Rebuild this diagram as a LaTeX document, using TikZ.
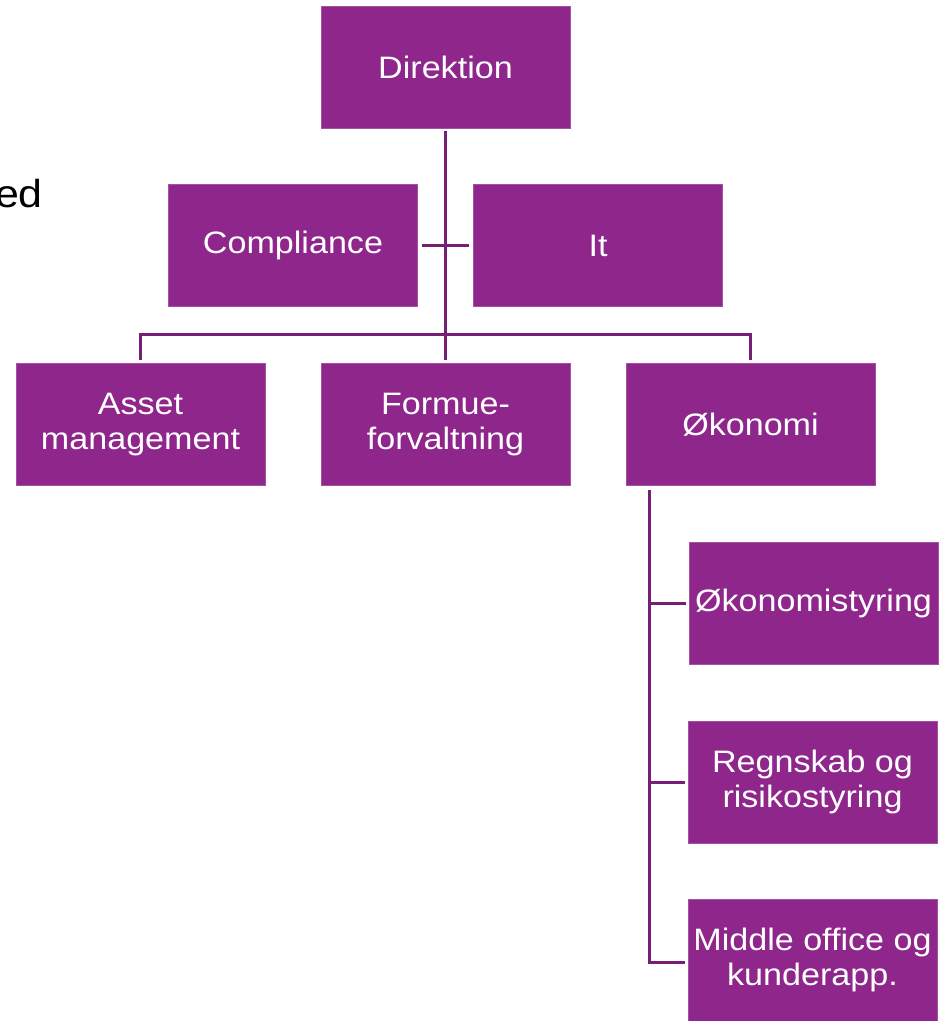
\documentclass[tikz,border=0pt]{standalone}
\usepackage{fontspec}
\setmainfont{Liberation Sans}
\newfontfamily\boxfont[FakeStretch=1.1]{Liberation Sans}
\definecolor{boxpurple}{RGB}{142,38,140}
\definecolor{linepurple}{RGB}{116,30,116}
\begin{document}
\begin{tikzpicture}[x=1pt,y=-1pt,
  box/.style={fill=boxpurple, draw=boxpurple!80!white, line width=0.6pt, text=white,
    minimum width=249pt, minimum height=122pt, inner sep=0pt, align=center,
    font=\boxfont\fontsize{31}{35}\selectfont},
  conn/.style={draw=linepurple, line width=3pt, shorten <=3pt, shorten >=3pt}]
\useasboundingbox (0,0) rectangle (947,1021);
\node[box] (dir)   at (445.5,67)   {Direktion};
\node[box] (comp)  at (293,245.5)  {Compliance};
\node[box] (it)    at (598,245.5)  {It};
\node[box] (asset) at (140.5,424.5) {Asset\\management};
\node[box] (form)  at (445.5,424.5) {Formue-\\forvaltning};
\node[box] (oko)   at (750.5,424.5) {Økonomi};
\node[box] (okst)  at (813.5,603)  {Økonomistyring};
\node[box] (regn)  at (812.5,782)  {Regnskab og\\risikostyring};
\node[box] (mid)   at (812.5,960)  {Middle office og\\kunderapp.};
\node[anchor=base east, inner sep=0pt, font=\boxfont\fontsize{39}{42}\selectfont] (ed) at (43,207) {ed};
\coordinate (bus) at (445.5,334);
\coordinate (ot) at ([xshift=24pt,yshift=-1pt]oko.south west);
\draw[conn] (dir.south) -- (form.north);
\draw[conn, shorten <=4pt, shorten >=4pt] (comp.east) -- (it.west);
\draw[conn] (asset.north) |- (bus) -| (oko.north);
\draw[conn] (ot) |- (okst.west);
\draw[conn] (ot) |- (regn.west);
\draw[conn] (ot) |- ([yshift=-2pt]mid.west);
\end{tikzpicture}
\end{document}
